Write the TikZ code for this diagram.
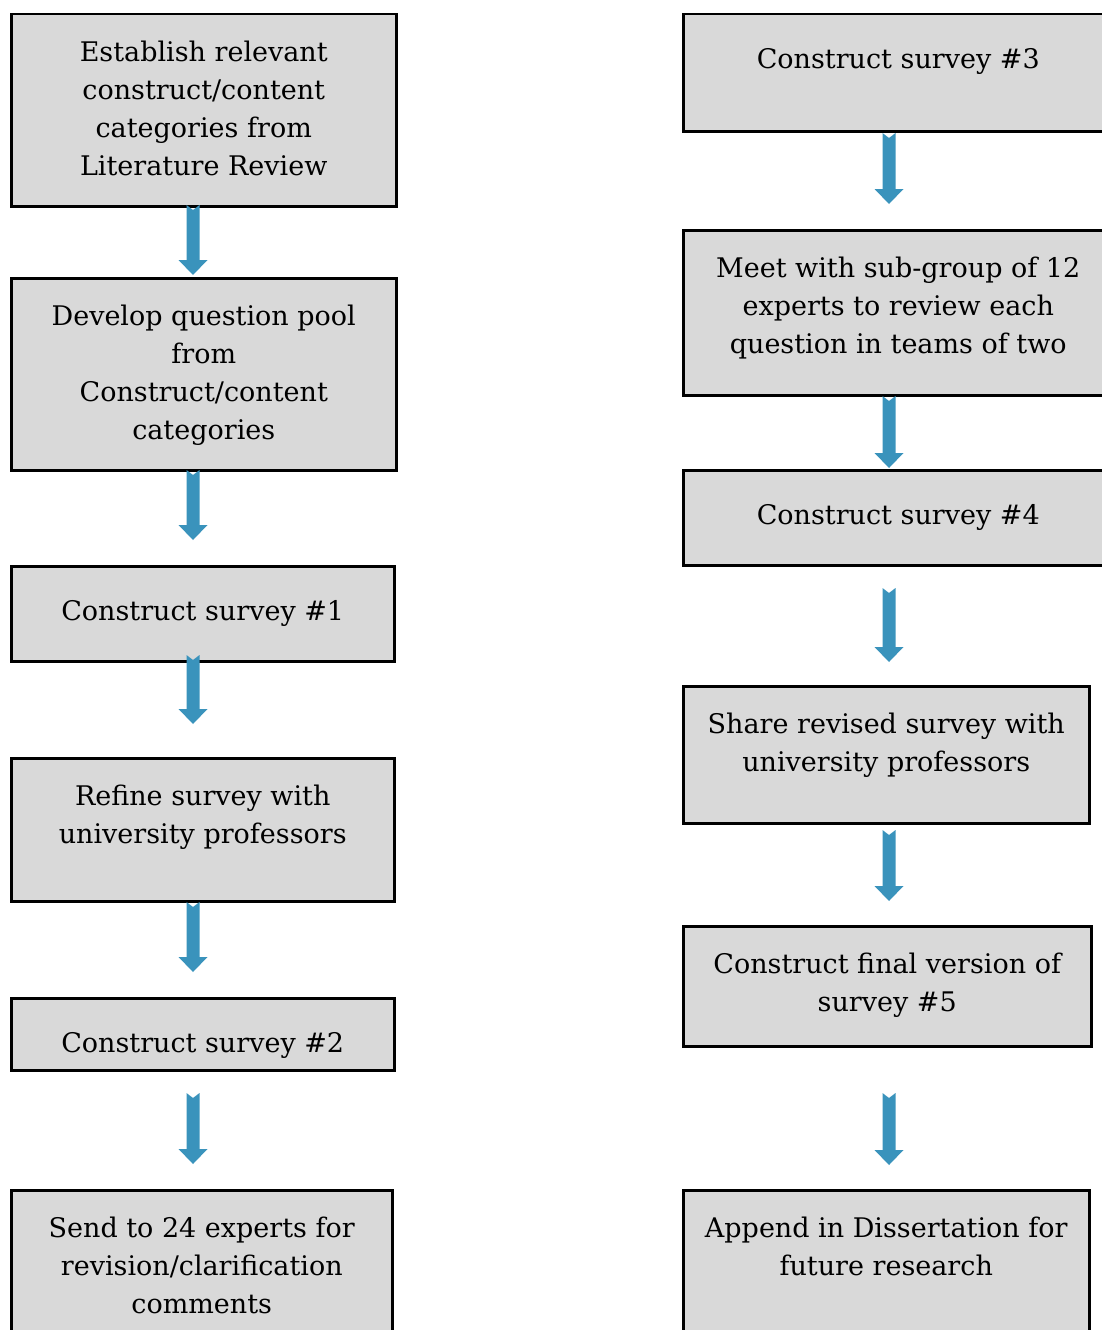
\documentclass[tikz,border=0pt]{standalone}
\usepackage{fontspec}
\usepackage{xcolor}
\usepackage{tikz}
\usetikzlibrary{positioning,calc}
\setmainfont{DejaVu Serif}

\definecolor{boxgray}{HTML}{D9D9D9}
\definecolor{arrowblue}{HTML}{3A93BC}

\tikzset{
    stage/.style={draw, line width=2.5pt, fill=boxgray, anchor=north west, inner sep=0pt},
    caption/.style={align=center, inner sep=0pt, font=\fontsize{27}{38}\selectfont,
        execute at begin node={\rule{0pt}{27pt}}},
    flow/.style={fill=arrowblue, to path={
        let \p1=(\tikztostart), \p2=(\tikztotarget) in
        (\x1-6.5pt,\y1) -- (\x1,\y1-5pt) -- (\x1+6.5pt,\y1) -- (\x1+6.5pt,\y2+15pt)
        -- (\x1+14.5pt,\y2+15pt) -- (\x2,\y2) -- (\x1-14.5pt,\y2+15pt)
        -- (\x1-6.5pt,\y2+15pt) -- cycle}}
}

\begin{document}
\begin{tikzpicture}[x=1pt, y=-1pt]
        \useasboundingbox (0, 0) rectangle (1102, 1330);
        \clip (0, 0) rectangle (1102, 1330);
        % left column
        \node [stage, minimum width=385, minimum height=192] (l1) at (10, 13) {};
        \node [stage, minimum width=385, minimum height=192] (l2) at (10, 277) {};
        \node [stage, minimum width=383, minimum height=95] (l3) at (10, 565) {};
        \node [stage, minimum width=383, minimum height=143] (l4) at (10, 757) {};
        \node [stage, minimum width=383, minimum height=72] (l5) at (10, 997) {};
        \node [stage, minimum width=381, minimum height=200] (l6) at (10, 1189) {};
        \node [caption, below=28pt of l1.north] (lt1) {Establish relevant\\construct/content\\categories from\\Literature Review};
        \node [caption, below=28pt of l2.north] (lt2) {Develop question pool\\from\\Construct/content\\categories};
        \node [caption, below=28pt of l3.north] (lt3) {Construct survey \#1};
        \node [caption, below=28pt of l4.north] (lt4) {Refine survey with\\university professors};
        \node [caption, below=28pt of l5.north] (lt5) {Construct survey \#2};
        \node [caption, below=28pt of l6.north] (lt6) {Send to 24 experts for\\revision/clarification\\comments};
        % right column
        \node [stage, minimum width=430, minimum height=117] (r1) at (682, 13) {};
        \node [stage, minimum width=430, minimum height=165] (r2) at (682, 229) {};
        \node [stage, minimum width=430, minimum height=95] (r3) at (682, 469) {};
        \node [stage, minimum width=406, minimum height=137] (r4) at (682, 685) {};
        \node [stage, minimum width=408, minimum height=120] (r5) at (682, 925) {};
        \node [stage, minimum width=406, minimum height=200] (r6) at (682, 1189) {};
        \node [caption, below=28pt of r1.north] (rt1) {Construct survey \#3};
        \node [caption, below=28pt of r2.north] (rt2) {Meet with sub-group of 12\\experts to review each\\question in teams of two};
        \node [caption, below=28pt of r3.north] (rt3) {Construct survey \#4};
        \node [caption, below=28pt of r4.north] (rt4) {Share revised survey with\\university professors};
        \node [caption, below=28pt of r5.north] (rt5) {Construct final version of\\survey \#5};
        \node [caption, below=28pt of r6.north] (rt6) {Append in Dissertation for\\future research};
        % arrows
        \foreach \s/\e [count=\i] in {205/275, 470/540, 655/724, 902/972, 1093/1164}{
            \coordinate (ls\i) at (193, \s);
            \coordinate (le\i) at (193, \e);
            \path [flow] (ls\i) to (le\i);
        }
        \foreach \s/\e [count=\i] in {133/204, 396/468, 588/662, 830/901, 1093/1165}{
            \coordinate (rs\i) at (889, \s);
            \coordinate (re\i) at (889, \e);
            \path [flow] (rs\i) to (re\i);
        }
\end{tikzpicture}
\end{document}
